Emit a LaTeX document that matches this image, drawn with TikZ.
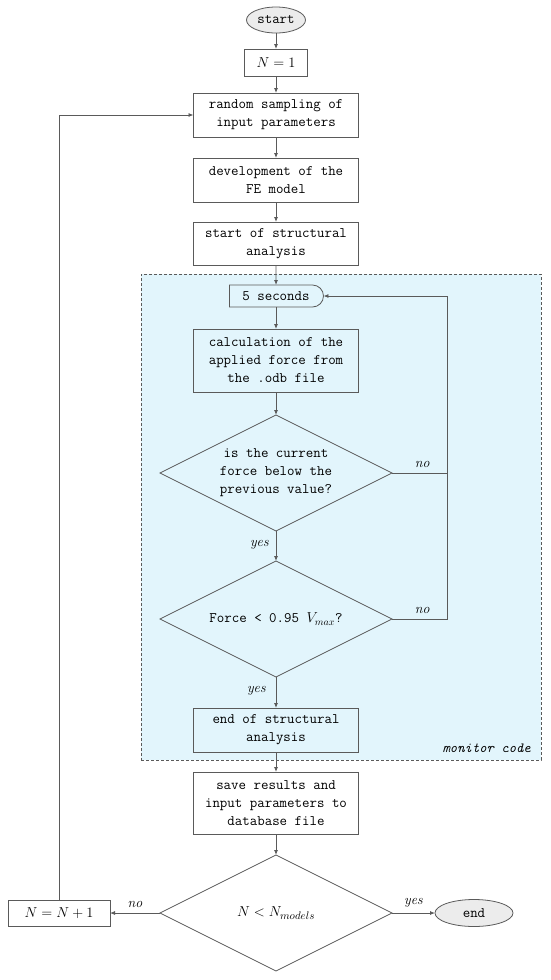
\documentclass[tikz,border=0pt]{standalone}
\usepackage{tikz}
\usetikzlibrary{arrows.meta,positioning,shapes.geometric,shapes.misc}
\definecolor{linegray}{HTML}{5A5A5A}
\definecolor{monfill}{HTML}{E2F5FC}
\newcommand{\boxfont}{\fontsize{14.5}{18}\selectfont\ttfamily}
\tikzset{
 box/.style={draw=linegray,line width=0.8pt,align=center,inner sep=0pt,outer sep=0pt,
             minimum width=165pt,font=\boxfont},
 term/.style={draw=linegray,line width=0.8pt,ellipse,inner sep=0pt,outer sep=0pt,
             fill=gray!15,font=\boxfont},
 decision/.style={draw=linegray,line width=0.8pt,diamond,aspect=2,inner sep=0pt,outer sep=0pt,
             minimum width=232pt,minimum height=116pt,align=center,font=\boxfont},
 arrow/.style={-{Latex[length=5pt,width=4pt]},draw=linegray,line width=0.8pt},
 link/.style={draw=linegray,line width=0.8pt},
 lbl/.style={font=\fontsize{14}{16}\selectfont\itshape,inner sep=0pt},
}

\begin{document}
\begin{tikzpicture}[x=1pt,y=-1pt,node distance=20pt]
\useasboundingbox (0,0) rectangle (550,980);
% monitor region
\node[draw=linegray,densely dashed,line width=0.6pt,fill=monfill,
      minimum width=400pt,minimum height=486pt] (mon) at (341,517) {};
\node[font=\fontsize{14}{16}\selectfont\ttfamily\itshape,anchor=base east,inner sep=0pt]
      (monlbl) at (531,752) {monitor code};

\node[term,minimum width=59pt,minimum height=26pt] (start) at (276,20) {start};
\node[box,below=16pt of start,minimum width=63pt,minimum height=27pt,
      font=\fontsize{15}{18}\selectfont] (n1) {$N=1$};
\node[box,below=17pt of n1,minimum height=44pt] (sample) {random sampling of\\input parameters};
\node[box,below=21pt of sample,minimum height=44pt] (model) {development of the\\FE model};
\node[box,below=of model,minimum height=43pt] (ana) {start of structural\\analysis};
\node[draw=linegray,line width=0.8pt,rounded rectangle,rounded rectangle left arc=none,
      minimum width=94pt,minimum height=22pt,inner sep=0pt,outer sep=0pt,
      font=\boxfont,below=of ana] (wait) {5 seconds};
\node[box,below=22pt of wait,minimum height=63pt] (calc) {calculation of the\\applied force from\\the .odb file};
\node[decision,below=23pt of calc] (drop) {is the current\\force below the\\previous value?};
\node[decision,below=30pt of drop] (limit) {Force < 0.95 $V_{max}$?};
\node[box,below=31pt of limit,minimum height=44pt] (anaend) {end of structural\\analysis};
\node[box,below=of anaend,minimum height=62pt] (save) {save results and\\input parameters to\\database file};
\node[decision,below=21pt of save,font=\fontsize{15}{18}\selectfont] (more) {$N<N_{models}$};
\node[box,left=50pt of more,minimum width=102pt,minimum height=26pt,
      font=\fontsize{15}{18}\selectfont] (inc) {$N=N+1$};
\node[term,right=43pt of more,minimum width=78pt,minimum height=27pt] (end) {end};

\coordinate (back) at ([xshift=55pt]drop.east);
\coordinate (back2) at ([xshift=55pt]limit.east);

\draw[arrow] (start) -- (n1);
\draw[arrow] (n1) -- (sample);
\draw[arrow] (sample) -- (model);
\draw[arrow] (model) -- (ana);
\draw[arrow] (ana) -- (wait);
\draw[arrow] (wait) -- (calc);
\draw[arrow] (calc) -- (drop);
\draw[arrow] (drop) -- node[lbl,left=7pt,pos=0.45] {yes} (limit);
\draw[arrow] (limit) -- node[lbl,left=10pt,pos=0.45] {yes} (anaend);
\draw[arrow] (anaend) -- (save);
\draw[arrow] (save) -- (more);
\draw[arrow] (drop.east) -- node[lbl,above=5pt,pos=0.55] {no} (back) |- (wait.east);
\draw[link] (limit.east) -- node[lbl,above=5pt,pos=0.55] {no} (back2) -- (back);
\draw[arrow] (more.west) -- node[lbl,above=5pt] {no} (inc.east);
\draw[arrow] (more.east) -- node[lbl,above=5pt] {yes} (end.west);
\draw[arrow] (inc.north) |- (sample.west);
\end{tikzpicture}
\end{document}
